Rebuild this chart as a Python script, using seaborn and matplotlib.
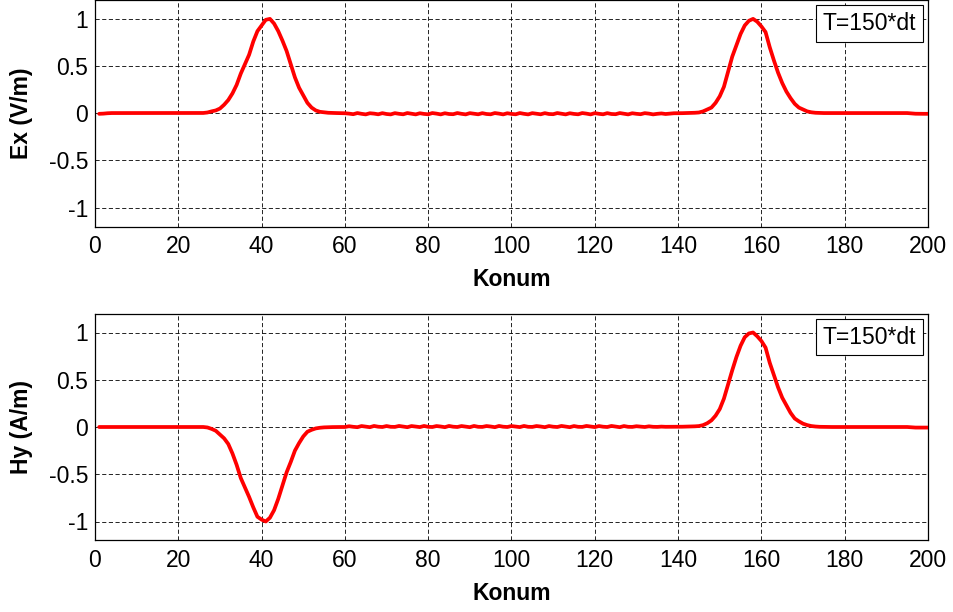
import numpy as np
import pandas as pd
import matplotlib
matplotlib.use("Agg")
import matplotlib.pyplot as plt
import seaborn as sns

# ---------------- data ----------------
konum = list(range(1, 201))

ex_values = [
    -0.006, -0.004, 0.0, 0.002, 0.002, 0.002, 0.002, 0.002, 0.002, 0.002,
    0.002, 0.002, 0.002, 0.002, 0.002, 0.002, 0.002, 0.002, 0.002, 0.002,
    0.002, 0.002, 0.002, 0.002, 0.002, 0.003, 0.008, 0.02, 0.03, 0.05,
    0.09, 0.14, 0.21, 0.30, 0.42, 0.52, 0.62, 0.76, 0.87, 0.93,
    0.99, 1.0, 0.95, 0.87, 0.77, 0.66, 0.52, 0.38, 0.27, 0.19,
    0.11, 0.06, 0.03, 0.015, 0.01, 0.005, 0.003, 0.002, 0.001, 0.0,
    -0.004, -0.010, 0.002, -0.006, -0.012, 0.000, -0.004, -0.011, 0.001, -0.008,
    -0.012, 0.001, -0.006, -0.011, 0.002, -0.005, -0.012, 0.000, -0.007, -0.011,
    0.002, -0.004, -0.012, 0.000, -0.008, -0.010, 0.002, -0.006, -0.012, 0.001,
    -0.005, -0.011, 0.001, -0.008, -0.011, 0.002, -0.004, -0.012, 0.000, -0.007,
    -0.011, 0.002, -0.006, -0.012, 0.001, -0.005, -0.011, 0.001, -0.008, -0.010,
    0.002, -0.005, -0.012, 0.000, -0.007, -0.011, 0.002, -0.004, -0.012, 0.001,
    -0.006, -0.011, 0.001, -0.008, -0.010, 0.002, -0.005, -0.012, 0.000, -0.006,
    -0.010, 0.001, -0.004, -0.012, -0.006, -0.002, -0.008, -0.004, 0.000, 0.000,
    0.001, 0.002, 0.003, 0.005, 0.008, 0.02, 0.04, 0.06, 0.11, 0.18,
    0.28, 0.44, 0.60, 0.72, 0.84, 0.93, 0.98, 1.0, 0.97, 0.92,
    0.86, 0.70, 0.56, 0.43, 0.32, 0.23, 0.16, 0.10, 0.06, 0.04,
    0.02, 0.01, 0.005, 0.003, 0.002, 0.002, 0.002, 0.002, 0.002, 0.002,
    0.002, 0.002, 0.002, 0.002, 0.002, 0.002, 0.002, 0.002, 0.002, 0.002,
    0.002, 0.002, 0.002, 0.002, 0.002, -0.002, -0.005, -0.006, -0.006, -0.006,
]

hy_values = [
    0.0, 0.0, 0.0, 0.0, 0.0, 0.0, 0.0, 0.0, 0.0, 0.0,
    0.0, 0.0, 0.0, 0.0, 0.0, 0.0, 0.0, 0.0, 0.0, 0.0,
    0.0, 0.0, 0.0, 0.0, 0.0, 0.0, -0.005, -0.02, -0.04, -0.08,
    -0.12, -0.18, -0.28, -0.40, -0.54, -0.64, -0.74, -0.85, -0.95, -0.98,
    -1.0, -0.96, -0.88, -0.76, -0.62, -0.48, -0.37, -0.25, -0.17, -0.10,
    -0.05, -0.03, -0.015, -0.008, -0.004, -0.002, -0.001, 0.0, 0.0, 0.0,
    0.008, 0.002, -0.002, 0.010, 0.004, -0.002, 0.011, 0.003, 0.000, 0.010,
    0.002, 0.001, 0.011, 0.004, -0.002, 0.010, 0.005, -0.001, 0.011, 0.002,
    0.000, 0.010, 0.005, -0.002, 0.011, 0.003, 0.000, 0.010, 0.004, -0.002,
    0.011, 0.002, 0.001, 0.010, 0.005, -0.002, 0.011, 0.003, 0.000, 0.010,
    0.004, -0.001, 0.011, 0.002, 0.001, 0.010, 0.005, -0.002, 0.010, 0.003,
    0.000, 0.011, 0.004, -0.002, 0.010, 0.002, 0.001, 0.011, 0.005, -0.001,
    0.010, 0.003, 0.000, 0.011, 0.004, -0.002, 0.010, 0.002, 0.001, 0.008,
    0.004, 0.000, 0.007, 0.002, 0.001, 0.004, 0.002, 0.002, 0.003, 0.003,
    0.003, 0.004, 0.005, 0.007, 0.01, 0.02, 0.04, 0.07, 0.12, 0.19,
    0.30, 0.45, 0.60, 0.74, 0.86, 0.95, 0.99, 1.0, 0.96, 0.91,
    0.84, 0.68, 0.55, 0.42, 0.31, 0.23, 0.15, 0.09, 0.06, 0.035,
    0.02, 0.01, 0.005, 0.002, 0.001, 0.0, 0.0, 0.0, 0.0, 0.0,
    0.0, 0.0, 0.0, 0.0, 0.0, 0.0, 0.0, 0.0, 0.0, 0.0,
    0.0, 0.0, 0.0, 0.0, 0.0, -0.003, -0.006, -0.006, -0.006, -0.006,
]

x_ticks = [0, 20, 40, 60, 80, 100, 120, 140, 160, 180, 200]
y_ticks = [-1, -0.5, 0, 0.5, 1]
y_tick_labels = ["-1", "-0.5", "0", "0.5", "1"]
x_label = "Konum"
y_labels = ["Ex (V/m)", "Hy (A/m)"]
annotation = "T=150*dt"

# ---------------- styling ----------------
sns.set_style("white")
plt.rcParams["font.family"] = ["Liberation Sans", "DejaVu Sans"]
plt.rcParams["axes.unicode_minus"] = False
plt.rcParams["text.color"] = "black"
plt.rcParams["axes.labelcolor"] = "black"

fig = plt.figure(figsize=(9.54, 6.12), dpi=100)
W, H = 954.0, 612.0
ax_top = fig.add_axes([95 / W, 1 - 226.5 / H, 833 / W, 226.5 / H])
ax_bot = fig.add_axes([95 / W, 1 - 540.4 / H, 833 / W, 226.8 / H])

df = pd.DataFrame({"Konum": konum, "Ex": ex_values, "Hy": hy_values})

FS = 16.5
for ax, col, ylab in [(ax_top, "Ex", y_labels[0]), (ax_bot, "Hy", y_labels[1])]:
    sns.lineplot(data=df, x="Konum", y=col, ax=ax, color="#ff0000",
                 linewidth=2.7, zorder=3)
    ax.set_xlim(0, 200)
    ax.set_ylim(-1.2, 1.2)
    ax.set_xticks(x_ticks)
    ax.set_xticklabels([str(t) for t in x_ticks], fontsize=FS)
    ax.set_yticks(y_ticks)
    ax.set_yticklabels(y_tick_labels, fontsize=FS)
    ax.tick_params(axis="both", direction="in", length=5, width=0.8,
                   color="black", labelcolor="black")
    ax.tick_params(axis="x", pad=6)
    ax.tick_params(axis="y", pad=5)
    ax.grid(True, color="black", linestyle=(0, (5, 3)), linewidth=0.6)
    for s in ax.spines.values():
        s.set_color("black")
        s.set_linewidth(0.9)
        s.set_visible(True)
    ax.set_xlabel(x_label, fontsize=FS, fontweight="bold", color="black")
    ax.set_ylabel(ylab, fontsize=FS, fontweight="bold", color="black")
    ax.xaxis.set_label_coords(0.5, -0.185)
    ax.yaxis.set_label_coords(-0.0744, 0.5)
    ax.text(0.9856, 0.947, annotation, transform=ax.transAxes, ha="right",
            va="top", fontsize=FS, zorder=5, color="black",
            bbox=dict(boxstyle="square,pad=0.3", facecolor="white",
                      edgecolor="black", linewidth=0.8))

fig.savefig("out.png", dpi=100)
